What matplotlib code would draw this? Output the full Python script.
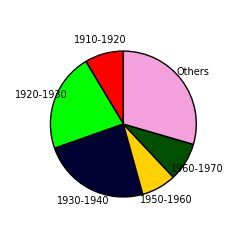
import matplotlib
matplotlib.use('Agg')
import matplotlib.pyplot as plt

# Share of each period
labels = ['1910-1920', '1920-1930', '1930-1940', '1950-1960', '1960-1970', 'Others']
shares = [8.6, 21.8, 23.9, 7.7, 8.5, 29.5]
colors = ['#ff0000', '#00ff00', '#000033', '#ffd100', '#005000', '#f4a0dc']

fig = plt.figure(figsize=(2.46, 2.4), dpi=100)
ax = fig.add_axes([0.0, 0.0, 1.0, 1.0])
wedges, texts = ax.pie(shares, labels=labels, colors=colors, startangle=90,
                       counterclock=True, labeldistance=1.19, radius=1.0,
                       wedgeprops={'edgecolor': 'black', 'linewidth': 1.0},
                       textprops={'fontsize': 7})
for t in texts:
    t.set_ha('center')
    t.set_va('center')
ax.set_aspect('equal')
ax.set_xlim(-1.69, 1.68)
ax.set_ylim(-1.59, 1.70)

plt.savefig('out.png', dpi=100)
